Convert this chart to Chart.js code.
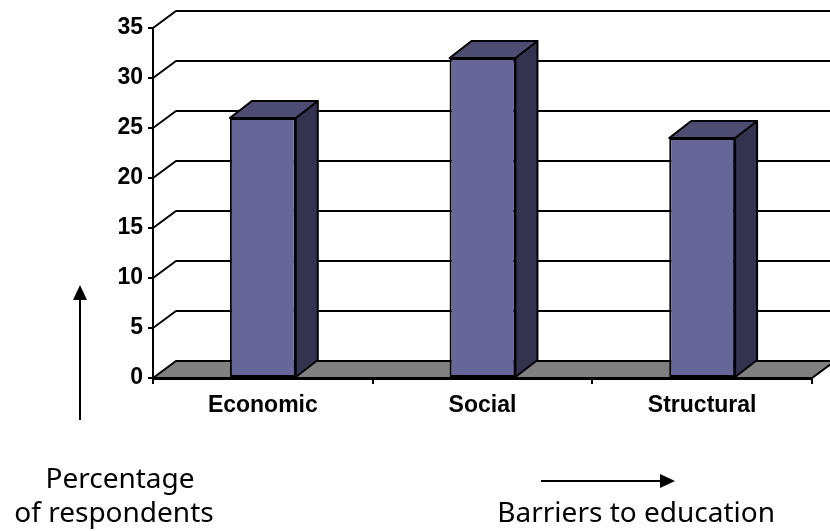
<!DOCTYPE html>
<html lang="en">
<head>
    <meta charset="UTF-8">
    <title>Barriers to education</title>
    <script src="https://cdn.jsdelivr.net/npm/chart.js"></script>
    <style>
        body { margin: 0; background: #ffffff; }
    </style>
</head>
<body>
    <canvas id="barrierChart" width="830" height="531"></canvas>
    <script>
        // survey results
        var categories = ['Economic', 'Social', 'Structural'];
        var percentages = [26, 32, 24];
        var yTicks = [0, 5, 10, 15, 20, 25, 30, 35];

        // depth of the 3d box and of the bars
        var wallDx = 23, wallDy = -17;
        var barDx = 22, barDy = -17;

        var frontColor = '#666699';
        var topColor = '#4d4d73';
        var sideColor = '#333350';
        var floorColor = '#808080';

        function poly(ctx, pts, fill) {
            ctx.beginPath();
            ctx.moveTo(pts[0][0], pts[0][1]);
            for (var i = 1; i < pts.length; i++) ctx.lineTo(pts[i][0], pts[i][1]);
            ctx.closePath();
            if (fill) { ctx.fillStyle = fill; ctx.fill(); }
            ctx.stroke();
        }

        // back wall gridlines and grey floor, drawn under everything else
        var wallPlugin = {
            id: 'wall3d',
            beforeDraw: function(chart) {
                var ctx = chart.ctx;
                var area = chart.chartArea;
                var y = chart.scales.y;
                ctx.save();
                ctx.strokeStyle = '#000000';
                ctx.lineWidth = 2;
                ctx.lineJoin = 'round';
                yTicks.forEach(function(v) {
                    if (v === 0) return;
                    var py = y.getPixelForValue(v);
                    ctx.beginPath();
                    ctx.moveTo(area.left, py);
                    ctx.lineTo(area.left + wallDx, py + wallDy);
                    ctx.lineTo(chart.width + 10, py + wallDy);
                    ctx.stroke();
                });
                var by = y.getPixelForValue(0);
                poly(ctx, [
                    [area.left, by],
                    [area.right, by],
                    [area.right + wallDx, by + wallDy],
                    [area.left + wallDx, by + wallDy]
                ], floorColor);
                ctx.restore();
            }
        };

        // side and top faces of each column
        var boxPlugin = {
            id: 'box3d',
            afterDatasetsDraw: function(chart) {
                var ctx = chart.ctx;
                ctx.save();
                ctx.strokeStyle = '#000000';
                ctx.lineWidth = 2;
                ctx.lineJoin = 'round';
                chart.getDatasetMeta(0).data.forEach(function(bar) {
                    var p = bar.getProps(['x', 'y', 'base', 'width'], true);
                    var l = p.x - p.width / 2, r = p.x + p.width / 2;
                    poly(ctx, [[r, p.y], [r + barDx, p.y + barDy], [r + barDx, p.base + barDy], [r, p.base]], sideColor);
                    poly(ctx, [[l, p.y], [l + barDx, p.y + barDy], [r + barDx, p.y + barDy], [r, p.y]], topColor);
                });
                ctx.restore();
            }
        };

        function arrow(ctx, x1, y1, x2, y2) {
            var a = Math.atan2(y2 - y1, x2 - x1);
            var len = 15, half = 7;
            var bx = x2 - len * Math.cos(a), by = y2 - len * Math.sin(a);
            ctx.beginPath();
            ctx.moveTo(x1, y1);
            ctx.lineTo(bx, by);
            ctx.stroke();
            ctx.beginPath();
            ctx.moveTo(x2, y2);
            ctx.lineTo(bx + half * Math.sin(a), by - half * Math.cos(a));
            ctx.lineTo(bx - half * Math.sin(a), by + half * Math.cos(a));
            ctx.closePath();
            ctx.fill();
        }

        // axis captions with their arrows
        var captionPlugin = {
            id: 'captions',
            afterDraw: function(chart) {
                var ctx = chart.ctx;
                ctx.save();
                ctx.fillStyle = '#000000';
                ctx.strokeStyle = '#000000';
                ctx.lineWidth = 2;
                arrow(ctx, 80, 420, 80, 285);
                arrow(ctx, 541, 481, 675, 481);
                ctx.font = '28px "Noto Sans"';
                ctx.textBaseline = 'alphabetic';
                ctx.textAlign = 'center';
                ctx.fillText('Percentage', 120, 488);
                ctx.fillText('of respondents', 114, 522);
                ctx.textAlign = 'right';
                ctx.fillText('Barriers to education', 775, 522);
                ctx.restore();
            }
        };

        var tickFont = { family: '"Liberation Sans", Arial', size: 23, weight: 'bold' };

        var ctx = document.getElementById('barrierChart').getContext('2d');
        var barrierChart = new Chart(ctx, {
            type: 'bar',
            data: {
                labels: categories,
                datasets: [{
                    data: percentages,
                    backgroundColor: frontColor,
                    borderColor: '#000000',
                    borderWidth: 2,
                    borderSkipped: false,
                    categoryPercentage: 0.3,
                    barPercentage: 1
                }]
            },
            options: {
                responsive: false,
                animation: false,
                layout: {
                    padding: { top: 28, right: 18, left: 0, bottom: 0 }
                },
                plugins: {
                    legend: { display: false },
                    tooltip: { enabled: false }
                },
                scales: {
                    x: {
                        afterFit: function(scale) { scale.height = 153; },
                        grid: {
                            drawOnChartArea: false,
                            offset: true,
                            color: '#000000',
                            lineWidth: 2,
                            tickLength: 6
                        },
                        border: { color: '#000000', width: 3 },
                        ticks: {
                            color: '#000000',
                            padding: 8,
                            font: tickFont
                        }
                    },
                    y: {
                        min: 0,
                        max: 35,
                        afterFit: function(scale) { scale.width = 153; },
                        afterBuildTicks: function(scale) {
                            scale.ticks = yTicks.map(function(v) { return { value: v }; });
                        },
                        grid: {
                            drawOnChartArea: false,
                            color: '#000000',
                            lineWidth: 2,
                            tickLength: 5
                        },
                        border: { color: '#000000', width: 2 },
                        ticks: {
                            color: '#000000',
                            padding: 5,
                            font: tickFont
                        }
                    }
                }
            },
            plugins: [wallPlugin, boxPlugin, captionPlugin]
        });
    </script>
</body>
</html>
